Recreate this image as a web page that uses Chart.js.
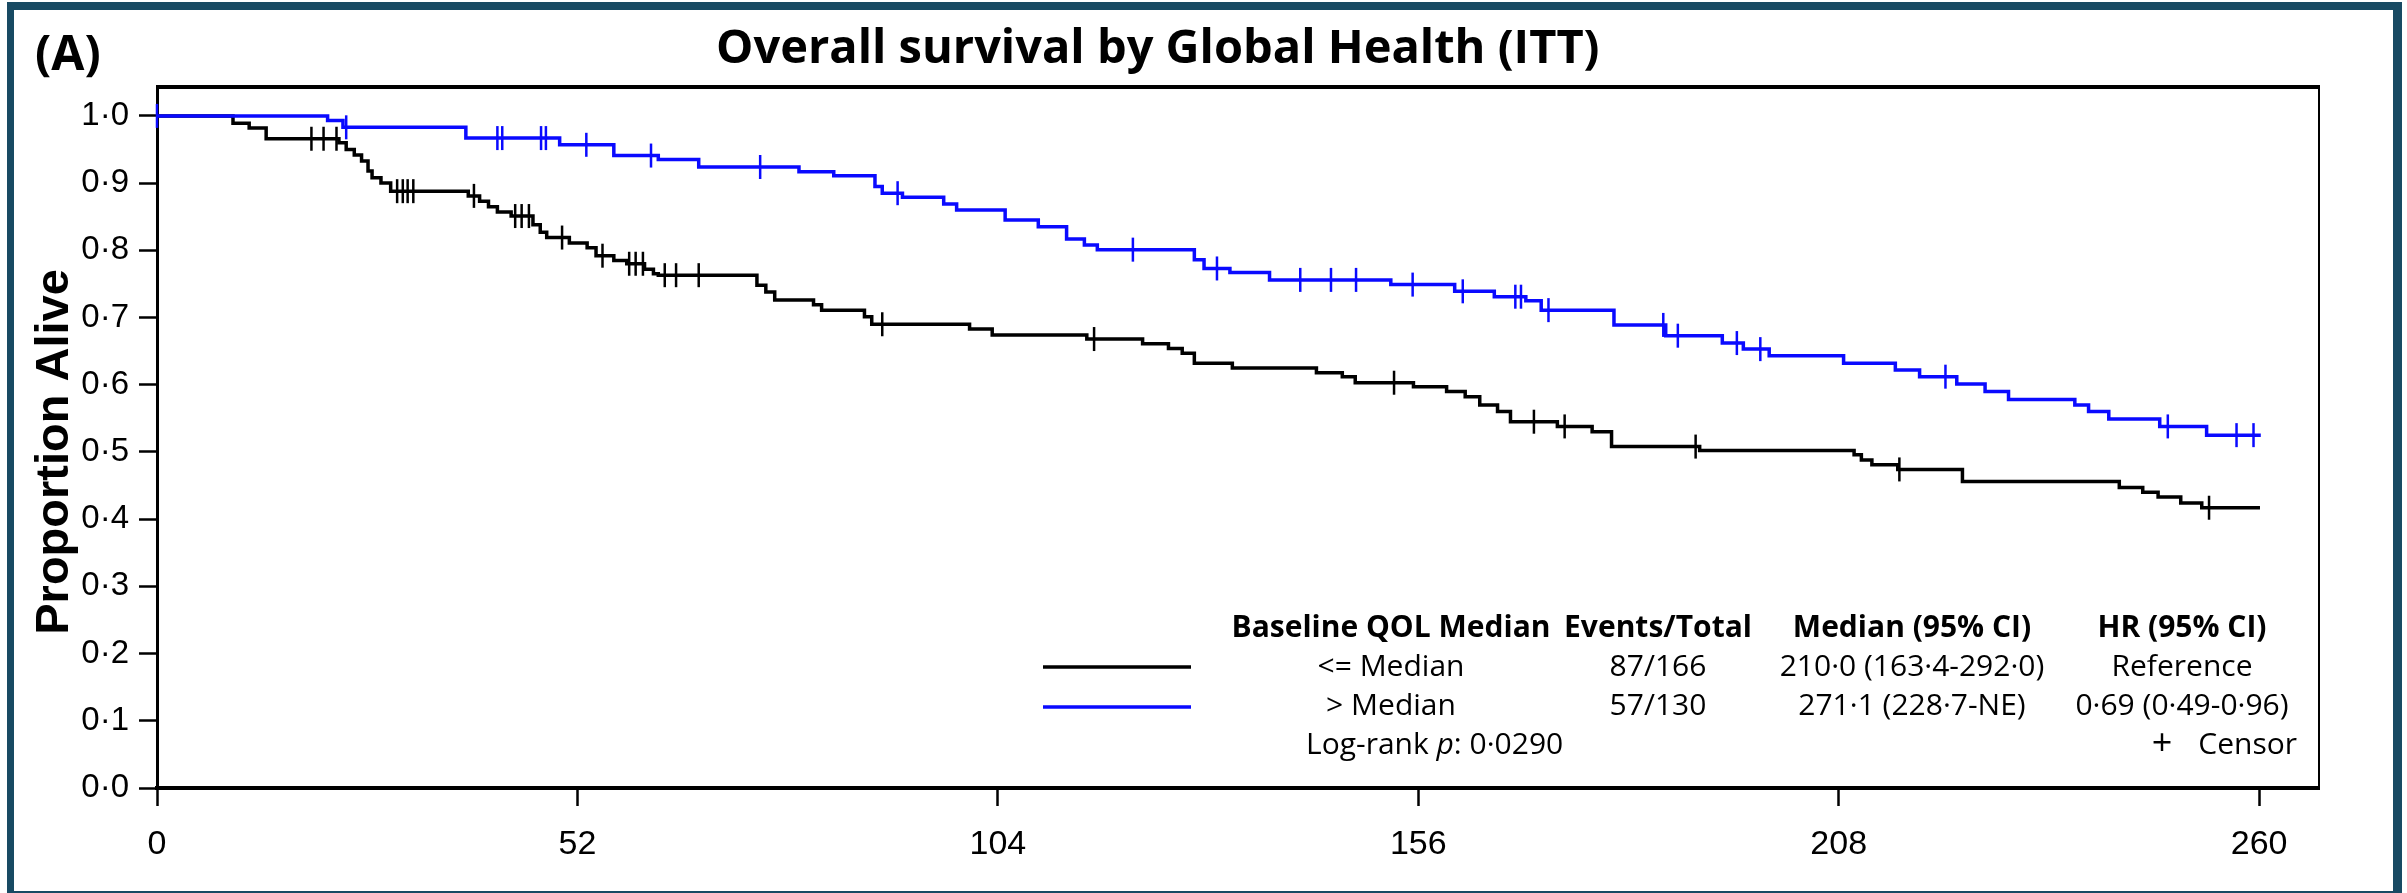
<!DOCTYPE html>
<html>
<head>
<meta charset="utf-8">
<title>Overall survival by Global Health (ITT)</title>
<script src="https://cdn.jsdelivr.net/npm/chart.js@4.4.1/dist/chart.umd.min.js"></script>
<style>
  html, body { margin: 0; padding: 0; background: #fff; overflow: hidden; }
  canvas { display: block; }
</style>
</head>
<body>
<canvas id="kmChart" width="2407" height="893"></canvas>
<script>
// axis ticks (weeks / proportion)
const xTicks = [0, 52, 104, 156, 208, 260];
const yTicks = [0, 0.1, 0.2, 0.3, 0.4, 0.5, 0.6, 0.7, 0.8, 0.9, 1.0];

// <= Median (black): KM step times and survival after each step
const lowTimes = [0, 9.4, 11.4, 13.5, 22.5, 23.4, 24.4, 25.3, 26.1, 26.6, 27.7, 28.9, 38.5, 39.9, 41.0, 42.1, 43.8,
  46.5, 47.4, 48.2, 51.0, 53.2, 54.3, 56.5, 58.1, 60.3, 61.4, 62.0, 74.2, 75.3, 76.4, 81.2, 82.2, 87.5, 88.4,
  100.5, 103.3, 115.0, 121.9, 125.1, 126.8, 128.3, 133.0, 143.4, 146.6, 148.2, 155.4, 159.5, 161.8, 163.6, 165.8,
  167.4, 173.2, 177.5, 179.9, 190.8, 209.9, 210.8, 212.1, 215.3, 223.3, 242.7, 245.6, 247.5, 250.3, 252.9, 260.1];
const lowSurv = [1.0, 0.989, 0.982, 0.966, 0.960, 0.950, 0.942, 0.933, 0.918, 0.908, 0.900, 0.888, 0.881, 0.873, 0.865, 0.857, 0.851,
  0.838, 0.827, 0.819, 0.811, 0.804, 0.792, 0.785, 0.780, 0.772, 0.765, 0.763, 0.748, 0.738, 0.726, 0.719, 0.711, 0.701, 0.690,
  0.683, 0.674, 0.668, 0.661, 0.654, 0.647, 0.632, 0.625, 0.618, 0.612, 0.603, 0.597, 0.590, 0.582, 0.570, 0.560,
  0.545, 0.538, 0.530, 0.508, 0.502, 0.496, 0.488, 0.481, 0.474, 0.456, 0.447, 0.440, 0.433, 0.424, 0.417, 0.417];
const lowCensor = [19.1, 20.6, 22.2, 29.7, 30.4, 31.0, 31.7, 39.2, 44.3, 45.1, 46.0, 50.1, 55.1, 58.4, 59.2, 60.1,
  62.8, 64.2, 67.0, 89.7, 115.9, 153.0, 170.3, 174.1, 190.3, 215.5, 253.8];

// > Median (blue)
const highTimes = [0, 21.1, 23.0, 38.2, 49.8, 56.5, 62.0, 67.0, 79.4, 83.7, 88.8, 89.7, 92.2, 97.3, 98.9, 104.9, 109.0,
  112.5, 114.7, 116.3, 128.3, 129.5, 132.7, 137.6, 152.6, 160.5, 165.4, 169.3, 171.2, 180.2, 186.6, 193.6, 196.2,
  199.4, 208.6, 215.0, 218.0, 222.6, 226.1, 229.0, 237.2, 238.9, 241.4, 247.7, 253.5, 260.2];
const highSurv = [1.0, 0.993, 0.983, 0.967, 0.957, 0.941, 0.935, 0.924, 0.917, 0.911, 0.895, 0.885, 0.879, 0.869, 0.860, 0.845, 0.835,
  0.817, 0.808, 0.801, 0.786, 0.773, 0.767, 0.756, 0.749, 0.739, 0.731, 0.725, 0.711, 0.689, 0.673, 0.662, 0.653,
  0.643, 0.632, 0.622, 0.612, 0.601, 0.590, 0.578, 0.570, 0.560, 0.549, 0.538, 0.525, 0.525];
const highCensor = [0, 23.4, 42.1, 42.7, 47.5, 48.1, 53.1, 61.1, 74.6, 91.6, 120.7, 131.1, 141.4, 145.2, 148.3, 155.3,
  161.5, 168.0, 168.7, 172.1, 186.3, 188.1, 195.4, 198.3, 221.2, 248.7, 257.2, 259.3];

// legend table
const legendHeader = ['Baseline QOL Median', 'Events/Total', 'Median (95% CI)', 'HR (95% CI)'];
const legendLow = ['<= Median', '87/166', '210\u00b70 (163\u00b74-292\u00b70)', 'Reference'];
const legendHigh = ['> Median', '57/130', '271\u00b71 (228\u00b77-NE)', '0\u00b769 (0\u00b749-0\u00b796)'];

const BLUE = 'rgb(10,10,255)';
const BLACK = '#000';

function survAt(times, surv, t) {
  let s = surv[0];
  for (let i = 0; i < times.length; i++) {
    if (times[i] <= t) s = surv[i];
  }
  return s;
}
const curve = (ts, ss) => ts.map((t, i) => ({ x: t, y: ss[i] }));
const censors = (cs, ts, ss) => cs.map(t => ({ x: t, y: survAt(ts, ss, t) }));

const dot = v => v.toFixed(1).replace('.', '\u00b7');

function censorSet(data, color) {
  return {
    type: 'scatter', data, showLine: false, clip: false,
    pointStyle: 'line', pointRotation: 90, pointRadius: 12, pointHoverRadius: 12,
    pointBorderWidth: 2.5, pointBorderColor: color, borderColor: color, backgroundColor: color
  };
}
function curveSet(data, color) {
  return {
    type: 'line', data, stepped: 'before', borderColor: color, borderWidth: 3.5,
    pointRadius: 0, fill: false, clip: false
  };
}

// texts, box and frame
const decor = {
  id: 'decor',
  beforeDraw(chart) {
    const ctx = chart.ctx;
    ctx.save();
    ctx.fillStyle = '#fff';
    ctx.fillRect(0, 0, chart.width, chart.height);
    ctx.fillStyle = '#184a63';
    ctx.fillRect(7, 2, 2395, 900);
    ctx.fillStyle = '#fff';
    ctx.fillRect(14, 10, 2379, 881);
    ctx.restore();
  },
  afterDraw(chart) {
    const { ctx, chartArea: a } = chart;
    const ys = chart.scales.y;
    ctx.save();
    ctx.strokeStyle = '#000';
    ctx.lineWidth = 4;
    ctx.beginPath(); ctx.moveTo(a.left - 1, a.top); ctx.lineTo(a.right + 1, a.top); ctx.stroke();
    ctx.lineWidth = 2;
    ctx.beginPath(); ctx.moveTo(a.right, a.top); ctx.lineTo(a.right, a.bottom); ctx.stroke();

    ctx.fillStyle = '#000';
    ctx.textBaseline = 'alphabetic';
    ctx.textAlign = 'left';
    ctx.font = 'bold 48px "Open Sans"';
    ctx.fillText('(A)', 35, 70);
    ctx.font = 'bold 47px "Open Sans"';
    ctx.fillText('Overall survival by Global Health (ITT)', 716, 63);

    // y title, centred on the 0..1 range
    const midY = (ys.getPixelForValue(0) + ys.getPixelForValue(1)) / 2;
    ctx.save();
    ctx.translate(68, midY);
    ctx.rotate(-Math.PI / 2);
    ctx.textAlign = 'center';
    ctx.font = 'bold 47px "Liberation Sans", Arial';
    ctx.fillText('Proportion Alive', 0, 0);
    ctx.restore();

    // legend table
    const cols = [1391, 1658, 1912, 2182];
    const rows = [637, 676, 715, 754];
    ctx.textAlign = 'center';
    ctx.font = 'bold 30px "Open Sans"';
    legendHeader.forEach((s, i) => ctx.fillText(s, cols[i], rows[0]));
    ctx.font = '30px "Open Sans"';
    legendLow.forEach((s, i) => ctx.fillText(s, cols[i], rows[1]));
    legendHigh.forEach((s, i) => ctx.fillText(s, cols[i], rows[2]));

    ctx.lineWidth = 3.5;
    ctx.strokeStyle = BLACK;
    ctx.beginPath(); ctx.moveTo(1043, 667); ctx.lineTo(1191, 667); ctx.stroke();
    ctx.strokeStyle = BLUE;
    ctx.beginPath(); ctx.moveTo(1043, 707); ctx.lineTo(1191, 707); ctx.stroke();

    ctx.textAlign = 'left';
    let x = 1306;
    const parts = [['Log-rank ', '30px "Open Sans"'], ['p', 'italic 30px "Open Sans"'], [': 0\u00b70290', '30px "Open Sans"']];
    parts.forEach(([s, f]) => { ctx.font = f; ctx.fillText(s, x, rows[3]); x += ctx.measureText(s).width; });
    ctx.textAlign = 'right';
    ctx.font = '30px "Open Sans"';
    ctx.fillText('Censor', 2297, rows[3]);
    ctx.textAlign = 'center';
    ctx.font = '36px "Open Sans"';
    ctx.fillText('+', 2162, rows[3] + 1);
    ctx.restore();
  }
};

new Chart(document.getElementById('kmChart'), {
  data: {
    datasets: [
      Object.assign(censorSet(censors(highCensor, highTimes, highSurv), BLUE), { order: 0 }),
      Object.assign(curveSet(curve(highTimes, highSurv), BLUE), { order: 1 }),
      Object.assign(censorSet(censors(lowCensor, lowTimes, lowSurv), BLACK), { order: 2 }),
      Object.assign(curveSet(curve(lowTimes, lowSurv), BLACK), { order: 3 })
    ]
  },
  options: {
    responsive: false,
    animation: false,
    devicePixelRatio: 1,
    layout: { padding: { left: 0, right: 88, top: 87, bottom: 0 } },
    plugins: { legend: { display: false }, tooltip: { enabled: false }, title: { display: false } },
    scales: {
      x: {
        type: 'linear', min: 0, max: 267.4,
        afterBuildTicks: s => { s.ticks = xTicks.map(v => ({ value: v })); },
        afterFit: s => { s.height = 105; },
        ticks: { color: '#000', padding: 18, maxRotation: 0, font: { family: '"Liberation Sans", Arial', size: 34 }, callback: v => String(v) },
        grid: { drawOnChartArea: false, drawTicks: true, tickLength: 18, tickWidth: 2.5, tickColor: '#000', color: '#000' },
        border: { display: true, color: '#000', width: 4 }
      },
      y: {
        type: 'linear', min: 0, max: 1.043,
        afterBuildTicks: s => { s.ticks = yTicks.map(v => ({ value: v })); },
        afterFit: s => { s.width = 157; },
        ticks: { color: '#000', padding: 10, font: { family: '"Liberation Sans", Arial', size: 33 }, callback: v => dot(v) },
        grid: { drawOnChartArea: false, drawTicks: true, tickLength: 18, tickWidth: 2.5, tickColor: '#000', color: '#000' },
        border: { display: true, color: '#000', width: 3 }
      }
    }
  },
  plugins: [decor]
});
</script>
</body>
</html>
